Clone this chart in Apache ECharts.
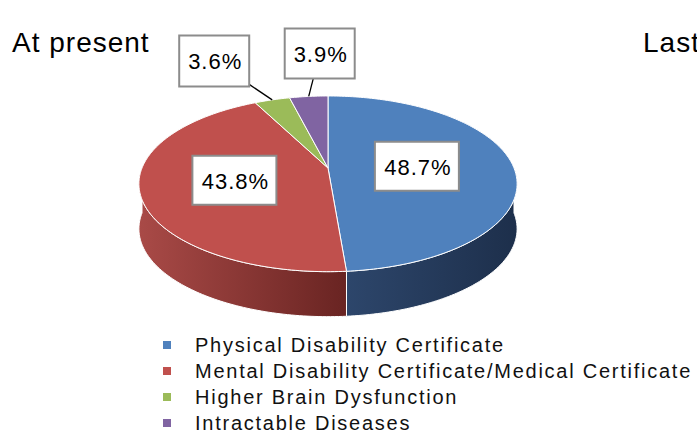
<!DOCTYPE html>
<html>
<head>
<meta charset="utf-8">
<script src="https://cdn.jsdelivr.net/npm/echarts/dist/echarts.min.js"></script>
<style>
html, body { margin: 0; padding: 0; background: #fff; }
#main { width: 697px; height: 434px; }
#main text { letter-spacing: 1px; }
#main text[style*="20px"] { letter-spacing: 1.75px; }
</style>
</head>
<body>
<div id="main"></div>
<script>
// data
var categories = [
    'Physical Disability Certificate',
    'Mental Disability Certificate/Medical Certificate',
    'Higher Brain Dysfunction',
    'Intractable Diseases'
];
var values = [48.7, 43.8, 3.6, 3.9];
var labelTexts = ['48.7%', '43.8%', '3.6%', '3.9%'];

// look
var topColors = ['#4F81BD', '#C0504D', '#9BBB59', '#8064A2'];
var sideColors = [
    ['#2D466B', '#1D2F4B'],
    ['#A94A47', '#692422'],
    ['#7A9446', '#5E7334'],
    ['#65507F', '#4D3D61']
];
// label placement: inside -> radial fraction, outside -> offset of box from slice edge
var labelPlace = [
    { inside: true, f: 0.48, w: 84, h: 49 },
    { inside: true, f: 0.51, w: 84, h: 49 },
    { inside: false, dx: -58, dy: -39, w: 70, h: 51 },
    { inside: false, dx: 11, dy: -43, w: 70, h: 50 }
];

// pie geometry (fake perspective)
var CX = 328, CY = 168, R = 186, RY = 85, K = 0.18, DEPTH = 45;
var FONT = '"Liberation Sans", Arial, sans-serif';

var total = values.reduce(function (a, b) { return a + b; }, 0);
var startAngles = [];
var acc = 0;
for (var i = 0; i < values.length; i++) {
    startAngles.push(acc / total * 360);
    acc += values[i];
}

function pt(deg, f, dy) {
    var a = deg * Math.PI / 180;
    var u = Math.sin(a) * f, v = -Math.cos(a) * f;
    var s = 1 / (1 - K * v);
    return [CX + R * u * s, CY + RY * v * s + (dy || 0)];
}
function arc(a1, a2, dy) {
    var n = Math.max(2, Math.ceil(a2 - a1));
    var pts = [];
    for (var j = 0; j <= n; j++) {
        pts.push(pt(a1 + (a2 - a1) * j / n, 1, dy));
    }
    return pts;
}

function makeRender(idx) {
    return function (params, api) {
        var val = api.value(0);
        var a1 = startAngles[idx];
        var a2 = a1 + val / total * 360;
        var children = [];
        // side wall (front half only)
        var s1 = Math.max(a1, 90), s2 = Math.min(a2, 270);
        if (s2 > s1) {
            var up = arc(s1, s2, 0);
            var down = arc(s1, s2, DEPTH).reverse();
            children.push({
                type: 'polygon',
                z2: 1,
                shape: { points: up.concat(down) },
                style: {
                    fill: new echarts.graphic.LinearGradient(0, 0, 1, 0, [
                        { offset: 0, color: sideColors[idx][0] },
                        { offset: 1, color: sideColors[idx][1] }
                    ]),
                    stroke: '#fff',
                    lineWidth: 1
                }
            });
        }
        // top face
        children.push({
            type: 'polygon',
            z2: 5,
            shape: { points: [[CX, CY]].concat(arc(a1, a2, 0)) },
            style: { fill: topColors[idx], stroke: '#fff', lineWidth: 1 }
        });
        // label box
        var lp = labelPlace[idx];
        var mid = (a1 + a2) / 2;
        var c;
        if (lp.inside) {
            c = pt(mid, lp.f, 0);
        } else {
            var e = pt(mid, 1, 0);
            c = [e[0] + lp.dx, e[1] + lp.dy];
            var ddx = e[0] - c[0], ddy = e[1] - c[1];
            var t = Math.min(Math.abs(lp.w / 2 / ddx), Math.abs(lp.h / 2 / ddy));
            children.push({
                type: 'line',
                z2: 9,
                shape: { x1: e[0], y1: e[1], x2: c[0] + ddx * t, y2: c[1] + ddy * t },
                style: { stroke: '#000', lineWidth: 1.3 }
            });
        }
        children.push({
            type: 'rect',
            z2: 10,
            shape: { x: c[0] - lp.w / 2, y: c[1] - lp.h / 2, width: lp.w, height: lp.h },
            style: { fill: '#fff', stroke: '#8C8C8C', lineWidth: 2 }
        });
        children.push({
            type: 'text',
            z2: 11,
            style: {
                text: labelTexts[idx],
                x: c[0] + 1,
                y: c[1] + 1,
                align: 'center',
                verticalAlign: 'middle',
                font: '22px ' + FONT,
                fill: '#000'
            }
        });
        return { type: 'group', children: children };
    };
}

var series = categories.map(function (name, idx) {
    return {
        type: 'custom',
        name: name,
        coordinateSystem: 'none',
        itemStyle: { color: topColors[idx] },
        renderItem: makeRender(idx),
        data: [values[idx]]
    };
});

var chart = echarts.init(document.getElementById('main'), null, { renderer: 'svg' });
chart.setOption({
    animation: false,
    backgroundColor: '#fff',
    graphic: [{
        type: 'text',
        left: 12,
        top: 28,
        style: { text: 'At present', font: '28px ' + FONT, fill: '#000' }
    }, {
        type: 'text',
        left: 643,
        top: 28,
        style: { text: 'Last', font: '28px ' + FONT, fill: '#000' }
    }],
    legend: {
        data: categories,
        orient: 'vertical',
        left: 163,
        top: 335,
        padding: 0,
        icon: 'rect',
        itemWidth: 8,
        itemHeight: 8,
        itemGap: 6,
        selectedMode: false,
        textStyle: {
            fontSize: 20,
            fontFamily: FONT,
            color: '#111',
            padding: [0, 0, 0, 19]
        }
    },
    series: series
});
</script>
</body>
</html>
